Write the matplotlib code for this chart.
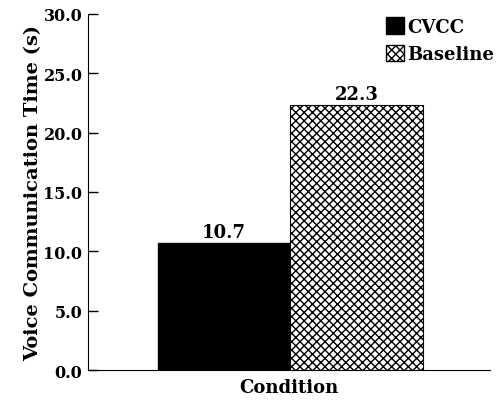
import matplotlib.pyplot as plt
from matplotlib.patches import Patch

conditions = ["CVCC", "Baseline"]
times = [10.7, 22.3]
yticks = [0.0, 5.0, 10.0, 15.0, 20.0, 25.0, 30.0]

plt.rcParams["font.family"] = ["DejaVu Serif"]
plt.rcParams["font.weight"] = "bold"
plt.rcParams["hatch.linewidth"] = 1.0

fig = plt.figure(figsize=(4.97, 4.02), dpi=100)
ax = fig.add_axes([0.177, 0.077, 0.809, 0.886])

x = list(range(len(conditions)))
ax.bar(x[0], times[0], width=1.0, color="black", edgecolor="black",
       label=conditions[0])
ax.bar(x[1], times[1], width=1.0, color="white", edgecolor="black",
       hatch="xxxx", linewidth=0.8, label=conditions[1])

for xi, v in zip(x, times):
    ax.text(xi, v + 0.2, f"{v:.1f}", ha="center", va="bottom", fontsize=13,
            fontweight="bold")

ax.set_xlim(-1.03, 2.01)
ax.set_ylim(0, 30)
ax.set_yticks(yticks)
ax.set_yticklabels([f"{t:.1f}" for t in yticks], fontsize=11.5, fontweight="bold")
ax.set_xticks([])
ax.tick_params(axis="y", direction="in", length=7, width=1, pad=4)
ax.spines["top"].set_visible(False)
ax.spines["right"].set_visible(False)
ax.set_xlabel("Condition", fontsize=13, fontweight="bold", labelpad=6)
ax.set_ylabel("Voice Communication Time (s)", fontsize=14, fontweight="bold",
              labelpad=1)

handles = [Patch(facecolor="black", edgecolor="black"),
           Patch(facecolor="white", edgecolor="black", hatch="xxxx")]
ax.legend(handles, conditions, loc="upper right", frameon=False, fontsize=13,
          handlelength=1.0, handleheight=1.0, handletextpad=0.2,
          labelspacing=0.5, borderaxespad=0.0, borderpad=0.0,
          bbox_to_anchor=(1.01, 0.99))

fig.savefig("out.png", dpi=100)
